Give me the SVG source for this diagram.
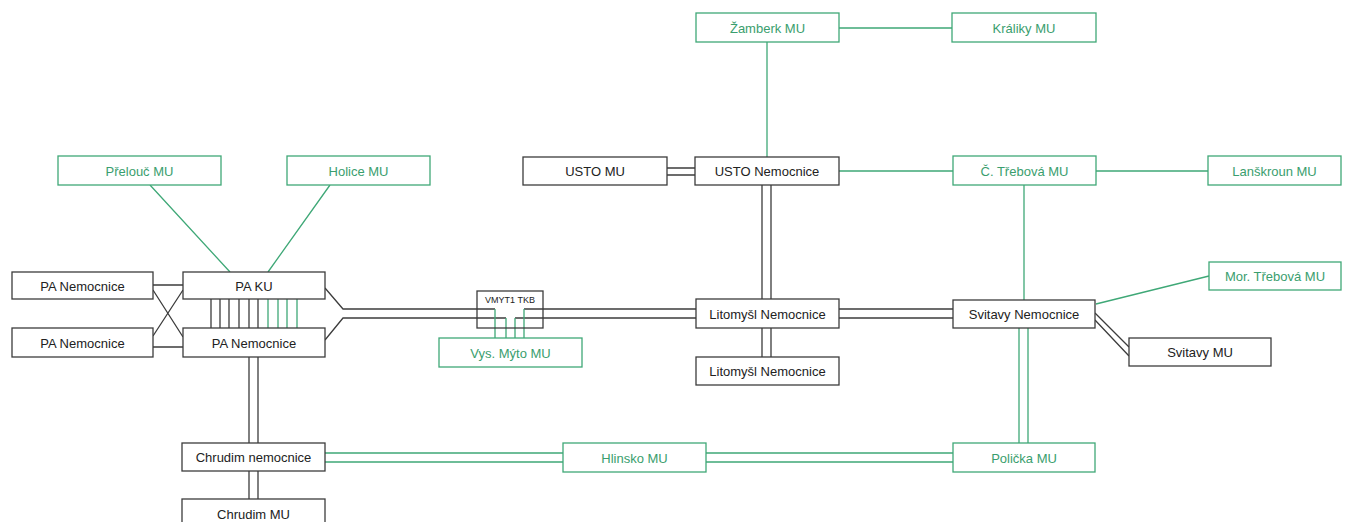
<svg xmlns="http://www.w3.org/2000/svg" width="1346" height="522" viewBox="0 0 1346 522">
<style>
.n rect{fill:#fff;stroke:#3c3c3c;stroke-width:1.3}
.g rect{fill:#fff;stroke:#3fa877;stroke-width:1.3}
text{font-family:"Liberation Sans",Arial,sans-serif;font-size:13px;text-anchor:middle;dominant-baseline:central}
.n text{fill:#222}
.g text{fill:#3a9e6e}
.k{stroke:#3c3c3c;stroke-width:1.3;fill:none}
.e{stroke:#3fa877;stroke-width:1.3;fill:none}
</style>
<rect width="1346" height="522" fill="#fff"/>
<g id="connectors">
<!-- left cross -->
<path class="k" d="M153 285H183M153 347H183M153 290L183 337M153 336L183 290"/>
<!-- PA KU / PA Nemocnice verticals -->
<path class="k" d="M211 299V328M220 299V328M229 299V328M239 299V328M249 299V328M258 299V328"/>
<path class="e" d="M268 299V328M278 299V328M287 299V328M297 299V328"/>
<!-- Přelouč, Holice -->
<path class="e" d="M150 185L230 272M330 185L268 272"/>
<!-- bus to VMYT -->
<path class="k" d="M325 288L343 309H495M325 340L343 318H506"/>
<path class="k" d="M543 309H524M543 318H515"/>
<path class="e" d="M495 309V338M506 318V338M515 318V338M524 309V338"/>
<!-- VMYT to Litomyšl -->
<path class="k" d="M543 309H696M543 318H696"/>
<!-- Litomyšl to Svitavy -->
<path class="k" d="M839 309H953M839 318H953"/>
<!-- USTO MU to USTO Nemocnice -->
<path class="k" d="M667 168H695M667 175H695"/>
<!-- USTO to Litomyšl, Litomyšl to lower -->
<path class="k" d="M762 185V299M771 185V299M762 328V357M771 328V357"/>
<!-- green top -->
<path class="e" d="M767 42V157M838 28H952M839 171H953M1096 171H1208M1024 185V300"/>
<!-- Svitavy to Mor. Třebová -->
<path class="e" d="M1096 304L1209 276"/>
<!-- Svitavy to Svitavy MU -->
<path class="k" d="M1095 313L1129 347M1095 320L1129 356"/>
<!-- Svitavy to Polička -->
<path class="e" d="M1019 328V443M1028 328V443"/>
<!-- Chrudim - Hlinsko - Polička -->
<path class="e" d="M325 453H563M325 462H563M706 453H953M706 462H953"/>
<!-- PA Nemocnice - Chrudim -->
<path class="k" d="M249 357V443M258 357V443M249 471V499M258 471V499"/>
</g>
<g id="zamberk" class="g"><rect x="696" y="13" width="143" height="29"/><text x="767.5" y="28">Žamberk MU</text></g>
<g id="kraliky" class="g"><rect x="952" y="13" width="144" height="29"/><text x="1024" y="28">Králiky MU</text></g>
<g id="usto-mu" class="n"><rect x="523" y="157" width="144" height="28"/><text x="595" y="171">USTO MU</text></g>
<g id="usto-nem" class="n"><rect x="695" y="157" width="144" height="28"/><text x="767" y="171">USTO Nemocnice</text></g>
<g id="ctrebova" class="g"><rect x="953" y="156" width="143" height="29"/><text x="1024.5" y="171">Č. Třebová MU</text></g>
<g id="lanskroun" class="g"><rect x="1208" y="156" width="133" height="29"/><text x="1274.5" y="171">Lanškroun MU</text></g>
<g id="prelouc" class="g"><rect x="58" y="156" width="163" height="29"/><text x="139.5" y="171">Přelouč MU</text></g>
<g id="holice" class="g"><rect x="287" y="156" width="143" height="29"/><text x="358.5" y="171">Holice MU</text></g>
<g id="pa-nem-1" class="n"><rect x="12" y="272" width="141" height="27"/><text x="82.5" y="286">PA Nemocnice</text></g>
<g id="pa-nem-2" class="n"><rect x="12" y="328" width="141" height="29"/><text x="82.5" y="343">PA Nemocnice</text></g>
<g id="pa-ku" class="n"><rect x="183" y="272" width="142" height="27"/><text x="254" y="286">PA KU</text></g>
<g id="pa-nem-3" class="n"><rect x="183" y="328" width="142" height="29"/><text x="254" y="343">PA Nemocnice</text></g>
<g id="vmyt-tkb" class="n"><rect x="477" y="291" width="66" height="37" fill="none" style="fill:none"/><text x="510" y="300" style="font-size:9px">VMYT1 TKB</text></g>
<g id="vys-myto" class="g"><rect x="439" y="338" width="143" height="29"/><text x="510.5" y="353">Vys. Mýto MU</text></g>
<g id="litomysl-1" class="n"><rect x="696" y="299" width="143" height="29"/><text x="767.5" y="314">Litomyšl Nemocnice</text></g>
<g id="litomysl-2" class="n"><rect x="696" y="357" width="143" height="28"/><text x="767.5" y="371">Litomyšl Nemocnice</text></g>
<g id="svitavy-nem" class="n"><rect x="953" y="300" width="142" height="28"/><text x="1024" y="314">Svitavy Nemocnice</text></g>
<g id="mor-trebova" class="g"><rect x="1209" y="262" width="132" height="28"/><text x="1275" y="276">Mor. Třebová MU</text></g>
<g id="svitavy-mu" class="n"><rect x="1129" y="338" width="142" height="28"/><text x="1200" y="352">Svitavy MU</text></g>
<g id="chrudim-nem" class="n"><rect x="182" y="443" width="143" height="28"/><text x="253.5" y="457">Chrudim nemocnice</text></g>
<g id="hlinsko" class="g"><rect x="563" y="443" width="143" height="29"/><text x="634.5" y="458">Hlinsko MU</text></g>
<g id="policka" class="g"><rect x="953" y="443" width="142" height="29"/><text x="1024" y="458">Polička MU</text></g>
<g id="chrudim-mu" class="n"><rect x="182" y="499" width="143" height="30"/><text x="253.5" y="514">Chrudim MU</text></g>
</svg>
